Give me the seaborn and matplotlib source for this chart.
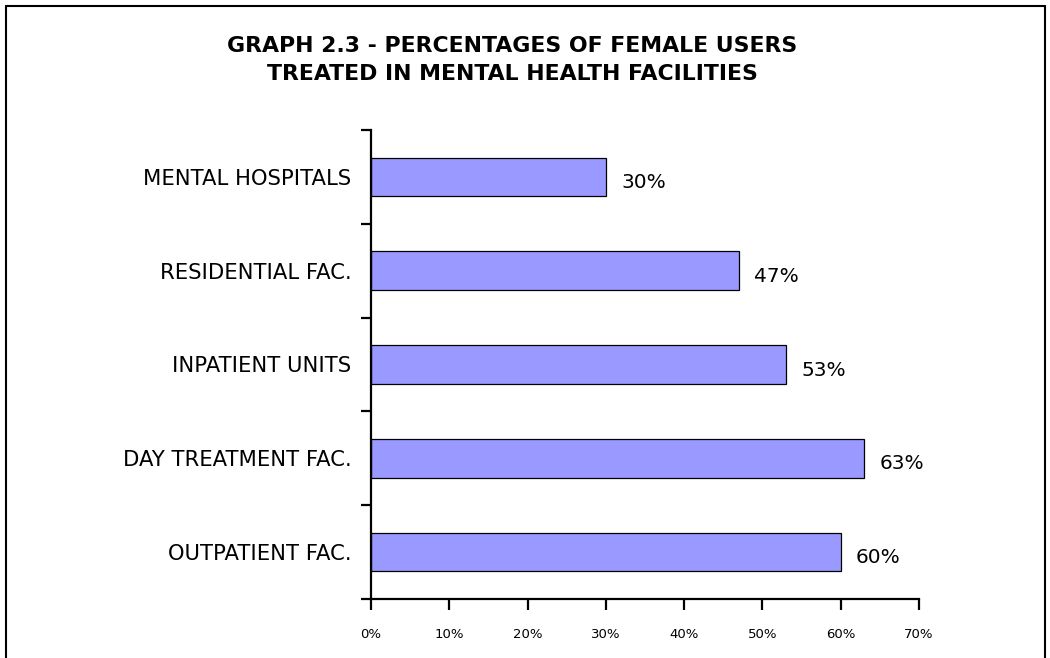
import matplotlib
matplotlib.use("Agg")
import matplotlib.pyplot as plt
import seaborn as sns
import pandas as pd
from matplotlib.lines import Line2D
from matplotlib.ticker import FixedLocator, PercentFormatter

categories = ["MENTAL HOSPITALS", "RESIDENTIAL FAC.", "INPATIENT UNITS",
              "DAY TREATMENT FAC.", "OUTPATIENT FAC."]
values = [30, 47, 53, 63, 60]
x_ticks = [0, 10, 20, 30, 40, 50, 60, 70]
title = "GRAPH 2.3 - PERCENTAGES OF FEMALE USERS\nTREATED IN MENTAL HEALTH FACILITIES"

sns.set_style("white")
plt.rcParams['font.family'] = ['DejaVu Sans']
plt.rcParams['text.color'] = 'black'
plt.rcParams['xtick.color'] = 'black'
plt.rcParams['ytick.color'] = 'black'
plt.rcParams['xtick.labelcolor'] = 'black'
plt.rcParams['ytick.labelcolor'] = 'black'

df = pd.DataFrame({"cat": categories, "val": values})

fig = plt.figure(figsize=(10.5, 6.58), dpi=100)
ax = fig.add_axes([371/1050, 1-599/658, (919-371)/1050, (599-130)/658])

sns.barplot(data=df, y="cat", x="val", orient="h", color="#9999FF",
            saturation=1, edgecolor="black", linewidth=0.9, width=0.41, ax=ax)

ax.set_xlim(0, 70)
ax.set_ylim(4.5, -0.5)
ax.set_xticks(x_ticks)
ax.xaxis.set_major_formatter(PercentFormatter(decimals=0))
ax.set_xlabel("")
ax.set_ylabel("")

for s in ["top", "right"]:
    ax.spines[s].set_visible(False)
for s in ["left", "bottom"]:
    ax.spines[s].set_visible(True)
    ax.spines[s].set_color("black")
    ax.spines[s].set_linewidth(1.6)

ax.tick_params(axis="x", which="major", direction="out", length=8, width=1.6,
               color="black", labelcolor="black", labelsize=9.5, pad=13, bottom=True)
ax.tick_params(axis="y", which="major", length=0, labelsize=15.2, pad=14,
               labelcolor="black", left=True)
ax.yaxis.set_minor_locator(FixedLocator([-0.5 + i for i in range(6)]))
ax.tick_params(axis="y", which="minor", direction="out", length=7, width=1.6,
               color="black", left=True)

for i, v in enumerate(values):
    ax.annotate(f"{v}%", xy=(v, i), xytext=(11, -4), textcoords="offset points",
                ha="left", va="center", fontsize=14.5, color="black")

fig.text(512/1050, 1-60/658, title, ha="center", va="center", fontsize=15.8,
         fontweight="bold", linespacing=1.5, color="black")

# figure frame (left, top, right)
fw, fh = 1050, 658
frame = [((6, 6), (6, 658)), ((6, 6), (1045, 6)), ((1045, 6), (1045, 658))]
for (x0, y0), (x1, y1) in frame:
    fig.add_artist(Line2D([x0/fw, x1/fw], [1-y0/fh, 1-y1/fh], color="black",
                          linewidth=1.5, transform=fig.transFigure))

fig.savefig("out.png", dpi=100)
